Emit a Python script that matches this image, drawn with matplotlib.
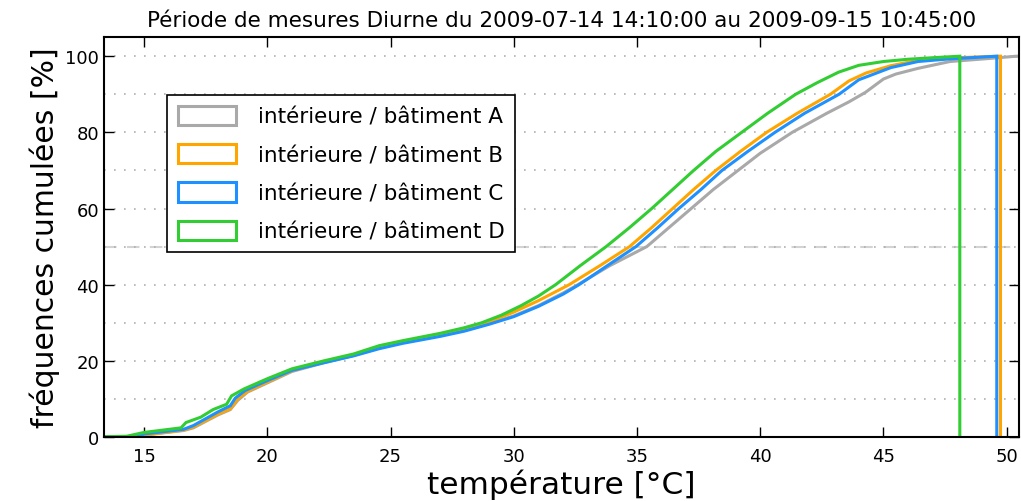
import matplotlib
matplotlib.use("Agg")
import matplotlib.pyplot as plt
from matplotlib.patches import Patch
from matplotlib.ticker import MultipleLocator

# --- data ---
temp_A = [13.0, 14.6, 15.0, 16.6, 17.0, 18.0, 18.5, 18.8, 19.2, 20.0, 21.0, 22.3, 23.5, 24.55, 25.5,
          27.0, 28.0, 29.0, 30.0, 31.0, 32.0, 32.6, 33.9, 35.4, 36.3, 37.2, 38.1, 39.1, 40.0, 41.3,
          42.7, 43.6, 44.27, 45.0, 45.5, 46.4, 47.7, 49.3, 50.4, 50.8, 50.8]
cum_A = [0, 0, 0.5, 1.7, 2.4, 5.8, 7.2, 9.6, 11.8, 14.2, 17.2, 19.5, 21.4, 23.4, 24.8,
         26.6, 28.0, 29.8, 31.8, 34.5, 37.8, 40.0, 45.0, 50.0, 55.0, 60.0, 65.0, 70.0, 74.5, 80.0,
         85.0, 88.0, 90.5, 94.0, 95.3, 96.8, 98.6, 99.4, 100, 100, 0]

temp_B = [13.0, 14.6, 15.0, 16.6, 17.0, 18.0, 18.5, 18.8, 19.2, 20.0, 21.0, 22.3, 23.5, 24.55, 25.5,
          27.0, 28.0, 28.9, 30.0, 31.0, 32.25, 33.5, 34.7, 35.6, 36.45, 37.3, 38.2, 39.2, 40.26,
          41.5, 42.85, 43.6, 44.3, 45.3, 46.4, 47.5, 49.75, 49.75]
cum_B = [0, 0, 0.5, 1.8, 2.6, 6.0, 7.4, 10.0, 12.0, 14.4, 17.4, 19.7, 21.5, 23.6, 25.0,
         26.8, 28.3, 30.0, 32.8, 35.8, 40.0, 45.0, 50.0, 55.0, 60.0, 65.0, 70.0, 75.0, 80.0,
         85.0, 90.0, 93.5, 95.6, 97.5, 98.9, 99.5, 100, 0]

temp_C = [13.0, 14.7, 15.0, 16.6, 17.0, 18.0, 18.5, 18.7, 19.1, 20.0, 21.0, 22.3, 23.5, 24.55, 25.5,
          27.0, 28.0, 29.0, 30.0, 31.0, 32.0, 32.65, 33.8, 34.96, 35.85, 36.7, 37.6, 38.45, 39.5, 40.6,
          41.8, 43.2, 44.0, 45.3, 46.4, 47.7, 49.6, 49.6]
cum_C = [0, 0, 0.8, 2.0, 3.0, 6.6, 8.2, 10.2, 12.2, 14.8, 17.5, 19.5, 21.3, 23.2, 24.6,
         26.4, 27.8, 29.6, 31.6, 34.3, 37.5, 40.0, 45.0, 50.0, 55.0, 60.0, 65.0, 70.0, 75.0, 80.0,
         85.0, 90.0, 93.8, 97.0, 98.6, 99.3, 100, 0]

temp_D = [13.0, 14.3, 15.0, 16.5, 16.7, 17.3, 17.8, 18.35, 18.55, 19.05, 20.0, 21.0, 22.3, 23.5, 24.55,
          25.5, 27.0, 28.0, 28.7, 29.5, 30.3, 31.0, 31.7, 32.7, 33.75, 34.7, 35.6, 36.45, 37.3, 38.2,
          39.25, 40.3, 41.44, 42.3, 43.18, 44.0, 45.0, 46.0, 47.0, 48.1, 48.1]
cum_D = [0, 0.2, 1.2, 2.4, 3.8, 5.2, 7.2, 8.6, 10.8, 12.6, 15.3, 17.9, 20.0, 21.8, 24.0,
         25.3, 27.2, 28.7, 30.0, 32.0, 34.5, 37.0, 40.0, 45.0, 50.0, 55.0, 60.0, 65.0, 70.0, 75.0,
         80.0, 85.0, 90.0, 93.0, 95.8, 97.6, 98.6, 99.2, 99.6, 100, 0]

labels = ["intérieure / bâtiment A", "intérieure / bâtiment B",
          "intérieure / bâtiment C", "intérieure / bâtiment D"]
colors = ["darkgray", "orange", "dodgerblue", "limegreen"]
title = "Période de mesures Diurne du 2009-07-14 14:10:00 au 2009-09-15 10:45:00"

fig = plt.figure(figsize=(10.21, 5.02), dpi=100)
ax = fig.add_axes([0.102, 0.1275, 0.896, 0.7965])

series = [(temp_A, cum_A), (temp_B, cum_B), (temp_C, cum_C), (temp_D, cum_D)]
for (t, c), col in zip(series, colors):
    ax.plot(t, c, color=col, lw=2.2, solid_joinstyle="miter")

ax.axhline(50, color="lightgray", lw=1.5, ls=(0, (6, 5)), zorder=0)
ax.set_xlim(13.38, 50.5)
ax.set_ylim(0, 105)
ax.xaxis.set_major_locator(MultipleLocator(5))
ax.yaxis.set_major_locator(MultipleLocator(20))
ax.yaxis.set_minor_locator(MultipleLocator(10))
ax.grid(axis="y", which="both", color="#b0b0b0", ls=(0, (1, 5)), lw=1.2)
ax.tick_params(which="major", direction="in", top=True, right=True, length=7, width=1,
               labelsize=13)
ax.tick_params(which="minor", length=0)
ax.tick_params(axis="x", pad=7)
for s in ax.spines.values():
    s.set_linewidth(1.5)

ax.set_xlabel("température [°C]", fontsize=22.5, labelpad=3)
ax.set_ylabel("fréquences cumulées [%]", fontsize=21.5, labelpad=4)
ax.set_title(title, fontsize=15.5, pad=8)

handles = [Patch(facecolor="none", edgecolor=c, lw=2.2) for c in colors]
leg = ax.legend(handles, labels, loc="upper left", bbox_to_anchor=(0.069, 0.855),
                borderaxespad=0, fontsize=15.5, handlelength=2.7, handleheight=1.0,
                handletextpad=1.0, labelspacing=0.8, borderpad=0.5, fancybox=False,
                framealpha=1, edgecolor="black")
leg.get_frame().set_linewidth(1.2)

fig.savefig("out.png", dpi=100)
